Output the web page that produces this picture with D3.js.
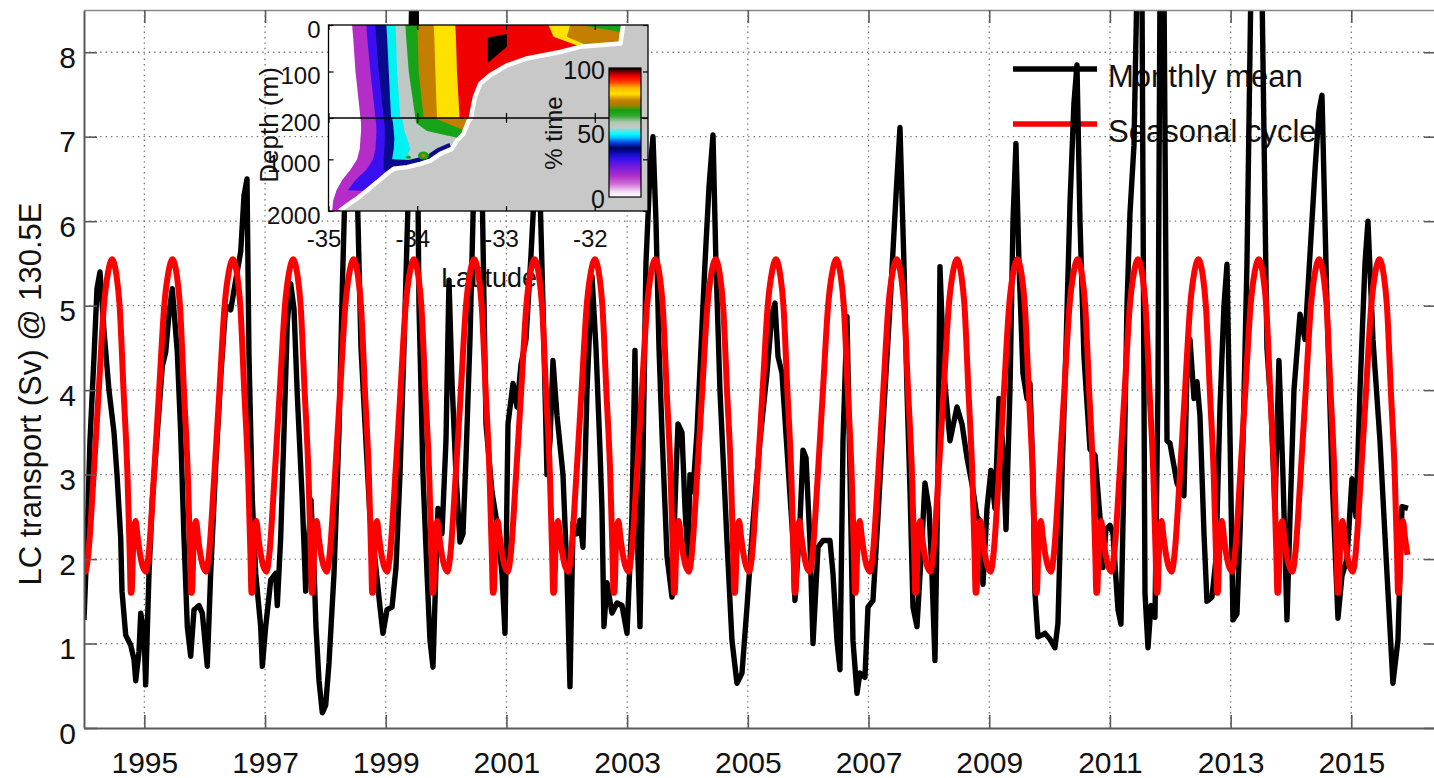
<!DOCTYPE html>
<html>
<head>
<meta charset="utf-8">
<script src="https://cdn.jsdelivr.net/npm/d3@7/dist/d3.min.js"></script>
<style>
html,body{margin:0;padding:0;background:#fff;}
svg{display:block;}
</style>
</head>
<body>
<svg id="chart" width="1434" height="778"></svg>
<script>
// ================= MAIN CHART DATA =================
const xTickYears = [1995, 1997, 1999, 2001, 2003, 2005, 2007, 2009, 2011, 2013, 2015];
const yTickValues = [0, 1, 2, 3, 4, 5, 6, 7, 8];
const legendLabels = ["Monthly mean", "Seasonal cycle"];
const yAxisLabel = "LC transport (Sv) @ 130.5E";

// Seasonal cycle (climatology) read for one year: phase within year, value (Sv)
const seasonalPhase = [0.00, 0.023, 0.07, 0.16, 0.245, 0.33, 0.40, 0.44, 0.47, 0.50, 0.54, 0.59, 0.655, 0.72, 0.76, 0.775, 0.787, 0.82, 0.855, 0.89, 0.93, 0.965];
const seasonalValue = [1.87, 1.85, 2.05, 3.0, 4.0, 5.0, 5.4, 5.52, 5.55, 5.5, 5.35, 5.0, 4.0, 3.0, 2.0, 1.6, 1.6, 2.25, 2.45, 2.25, 2.05, 1.93];

// Monthly mean transport
const monthlyYear = [1994.000,1994.050,1994.099,1994.166,1994.215,1994.265,1994.331,1994.414,1994.497,1994.547,1994.608,1994.630,1994.691,1994.774,1994.829,1994.857,1994.911,1994.940,1994.994,1995.022,1995.077,1995.132,1995.215,1995.297,1995.354,1995.408,1995.463,1995.546,1995.602,1995.657,1995.712,1995.768,1995.823,1995.906,1995.960,1996.043,1996.099,1996.182,1996.265,1996.348,1996.431,1996.514,1996.597,1996.651,1996.701,1996.734,1996.789,1996.845,1996.928,1996.955,1997.011,1997.094,1997.176,1997.203,1997.259,1997.314,1997.369,1997.425,1997.480,1997.534,1997.617,1997.674,1997.728,1997.761,1997.811,1997.844,1997.894,1997.949,1998.005,1998.060,1998.143,1998.225,1998.280,1998.341,1998.441,1998.524,1998.590,1998.656,1998.739,1998.822,1998.905,1998.954,1999.021,1999.104,1999.170,1999.236,1999.302,1999.369,1999.435,1999.501,1999.551,1999.617,1999.684,1999.733,1999.783,1999.833,1999.866,1999.932,1999.998,2000.048,2000.098,2000.164,2000.230,2000.280,2000.330,2000.396,2000.462,2000.529,2000.595,2000.661,2000.760,2000.843,2000.926,2000.976,2001.026,2001.109,2001.175,2001.241,2001.324,2001.407,2001.473,2001.539,2001.606,2001.672,2001.722,2001.771,2001.838,2001.937,2002.003,2002.053,2002.103,2002.169,2002.219,2002.268,2002.335,2002.418,2002.484,2002.550,2002.583,2002.616,2002.666,2002.749,2002.832,2002.915,2002.998,2003.080,2003.130,2003.180,2003.213,2003.263,2003.312,2003.379,2003.428,2003.478,2003.528,2003.578,2003.661,2003.744,2003.810,2003.843,2003.909,2003.959,2004.008,2004.041,2004.091,2004.157,2004.224,2004.290,2004.356,2004.423,2004.472,2004.538,2004.654,2004.737,2004.820,2004.903,2004.986,2005.085,2005.201,2005.317,2005.400,2005.450,2005.500,2005.566,2005.649,2005.748,2005.781,2005.864,2005.914,2005.964,2006.030,2006.080,2006.163,2006.245,2006.361,2006.411,2006.477,2006.527,2006.577,2006.643,2006.693,2006.742,2006.809,2006.858,2006.941,2006.991,2007.074,2007.157,2007.256,2007.356,2007.455,2007.521,2007.587,2007.637,2007.687,2007.737,2007.803,2007.886,2007.935,2008.002,2008.052,2008.101,2008.151,2008.184,2008.250,2008.350,2008.466,2008.549,2008.632,2008.731,2008.797,2008.847,2008.897,2008.963,2009.029,2009.095,2009.162,2009.228,2009.278,2009.344,2009.394,2009.443,2009.493,2009.559,2009.626,2009.675,2009.725,2009.758,2009.808,2009.874,2009.924,2010.007,2010.090,2010.139,2010.206,2010.272,2010.338,2010.404,2010.454,2010.504,2010.570,2010.670,2010.753,2010.835,2010.885,2010.935,2011.001,2011.051,2011.134,2011.183,2011.233,2011.283,2011.333,2011.399,2011.448,2011.531,2011.581,2011.631,2011.680,2011.747,2011.796,2011.830,2011.896,2011.946,2011.995,2012.062,2012.111,2012.178,2012.227,2012.277,2012.327,2012.393,2012.443,2012.492,2012.559,2012.608,2012.691,2012.757,2012.824,2012.890,2012.940,2012.989,2013.039,2013.105,2013.155,2013.205,2013.271,2013.337,2013.519,2013.602,2013.669,2013.735,2013.801,2013.867,2013.934,2013.983,2014.050,2014.149,2014.232,2014.315,2014.398,2014.464,2014.514,2014.597,2014.680,2014.779,2014.845,2014.928,2015.011,2015.077,2015.144,2015.227,2015.276,2015.359,2015.475,2015.591,2015.690,2015.773,2015.840,2015.939];
const monthlyValue = [1.28,2.2,3.4,4.4,5.2,5.4,4.7,4.0,3.5,3.0,2.25,1.62,1.1,0.98,0.81,0.56,0.9,1.36,1.15,0.51,1.83,2.7,3.5,4.28,4.45,4.9,5.2,4.45,3.5,2.25,1.2,0.85,1.4,1.45,1.36,0.73,1.83,3.1,4.15,5.0,4.95,5.3,5.64,6.3,6.5,4.4,2.7,1.83,1.2,0.73,1.2,1.75,1.83,1.45,2.25,3.5,4.8,5.26,4.96,3.95,2.7,1.62,2.3,2.7,1.9,1.2,0.56,0.18,0.27,0.77,1.83,3.5,5.2,6.8,7.3,6.5,4.5,3.6,2.5,2.0,1.43,1.12,1.4,1.43,1.9,3.0,4.5,6.2,8.8,8.8,5.0,3.0,1.83,1.04,0.72,1.9,2.6,2.3,3.4,5.3,4.1,3.0,2.2,2.3,3.2,4.6,6.5,7.5,6.5,3.6,2.8,2.43,1.83,1.12,3.6,4.08,3.8,4.3,4.6,5.6,6.5,6.8,5.0,3.0,3.4,4.35,3.7,3.0,1.83,0.49,2.43,2.3,2.46,2.14,4.0,5.35,4.5,3.3,2.6,1.2,1.72,1.36,1.48,1.45,1.12,2.5,4.47,2.0,1.2,3.2,5.5,6.6,7.0,6.0,4.5,3.49,2.03,1.55,3.0,3.6,3.5,2.6,2.0,3.0,2.8,3.5,4.5,5.5,6.4,7.02,5.5,4.0,2.22,1.04,0.53,0.65,1.43,2.43,3.4,4.2,4.9,5.03,4.4,4.2,3.3,2.22,1.51,2.43,3.29,3.2,2.2,1.0,2.14,2.22,2.22,1.83,1.04,0.69,3.4,4.87,3.0,1.04,0.41,0.65,0.6,1.43,1.51,2.5,3.8,5.0,6.3,7.11,5.5,4.0,2.82,1.43,1.2,2.22,2.9,2.6,1.8,0.8,3.0,5.46,4.2,3.4,3.8,3.6,3.2,2.82,2.5,2.45,1.7,2.6,3.05,2.6,3.9,3.3,2.35,4.0,6.0,6.92,5.5,4.2,3.9,4.08,3.0,1.6,1.08,1.1,1.12,1.05,0.95,1.24,3.0,4.5,6.2,7.4,7.85,6.0,4.4,3.3,3.23,2.5,1.9,2.35,2.4,2.3,1.4,1.23,3.0,5.0,6.1,6.9,8.8,8.8,1.6,0.95,1.45,1.31,4.0,8.8,8.8,3.4,3.37,3.1,2.9,2.8,2.75,4.2,4.6,3.9,4.1,3.7,2.3,1.5,1.55,2.0,3.8,5.0,5.49,3.5,1.28,1.35,2.3,3.4,5.5,8.8,8.8,4.5,3.8,2.6,4.35,3.0,1.28,2.46,4.0,4.9,4.6,5.6,6.6,7.3,7.49,5.0,3.0,1.3,1.8,2.0,2.95,2.5,4.0,5.5,6.0,4.6,3.4,1.83,0.53,1.04,2.62,2.6];

// ================= INSET DATA (% time vs latitude / depth) =================
const EAST = -31.4;                         // eastern limit of the section
const insetLatTicks = [-35, -34, -33, -32];
const insetDepthTicks = [0, 100, 200, 1000, 2000];
const insetDepth = [0, 25, 100, 200, 201, 300, 450, 600, 800, 1000, 1200, 1400, 1600, 1800, 2000];
// western edge (latitude) of each % band at each depth
const edgePurple = [-34.734,-34.723,-34.696,-34.640,-34.640,-34.633,-34.633,-34.640,-34.648,-34.678,-34.753,-34.846,-34.910,-34.948,-34.959];
const edgeBlue   = [-34.573,-34.565,-34.528,-34.471,-34.471,-34.464,-34.460,-34.464,-34.471,-34.498,-34.573,-34.696,-34.783,EAST,EAST];
const edgeNavy   = [-34.471,-34.464,-34.434,-34.378,-34.378,-34.370,-34.366,-34.366,-34.370,-34.378,-34.378,EAST,EAST,EAST,EAST];
const edgeCyan   = [-34.348,-34.340,-34.321,-34.295,-34.284,-34.273,-34.265,-34.258,-34.265,-34.284,EAST,EAST,EAST,EAST,EAST];
const edgeGray   = [-34.246,-34.239,-34.228,-34.190,-34.171,-34.160,-34.145,-34.115,-34.078,-34.134,EAST,EAST,EAST,EAST,EAST];
const edgeGreen  = [-34.134,-34.126,-34.096,-34.021,-34.021,-34.010,-33.890,-33.500,EAST,EAST,EAST,EAST,EAST,EAST,EAST];
const edgeBrown  = [-34.003,-33.995,-33.984,-33.928,-33.815,-33.665,-33.450,EAST,EAST,EAST,EAST,EAST,EAST,EAST,EAST];
const edgeYellow = [-33.815,-33.808,-33.796,-33.778,EAST,EAST,EAST,EAST,EAST,EAST,EAST,EAST,EAST,EAST,EAST];
const edgeRed    = [-33.572,-33.564,-33.553,-33.523,EAST,EAST,EAST,EAST,EAST,EAST,EAST,EAST,EAST,EAST,EAST];
const edgeShelfYellow = [-32.522,-32.465,EAST,EAST,EAST,EAST,EAST,EAST,EAST,EAST,EAST,EAST,EAST,EAST,EAST];
const edgeShelfBrown  = [-32.278,-32.315,EAST,EAST,EAST,EAST,EAST,EAST,EAST,EAST,EAST,EAST,EAST,EAST,EAST];
const edgeShelfGreen  = [-32.165,EAST,EAST,EAST,EAST,EAST,EAST,EAST,EAST,EAST,EAST,EAST,EAST,EAST,EAST];
const bandColors = ["#b52dc8","#3b10f0","#0a0a8c","#00f2f2","#bec8c5","#17a317","#c47e00","#ffe100","#f00000","#ffe100","#c47e00","#17a317"];
// bathymetry (sea floor) along the section
const bathyLat   = [-31.68,-31.69,-31.71,-32.165,-32.39,-32.765,-32.99,-33.18,-33.29,-33.35,-33.38,-33.395,-33.42,-33.48,-33.55,-33.61,-33.74,-33.85,-33.965,-34.115,-34.265,-34.34,-34.45,-34.565,-34.68,-34.79,-34.865,-34.87];
const bathyDepth = [0,12,40,47,58,72,87,108,126,155,184,200,251,509,637,798,894,1023,1087,1151,1184,1280,1441,1601,1762,1891,1987,2000];
// 100% patch and small isolated cells
const patchLat = [-33.204, -32.99, -32.99, -33.204];
const patchDepth = [27, 19.5, 47, 81];
const blobLat = [-33.93, -34.10];
const blobDepth = [926, 960];
// colour bar
const colorbarTicks = [0, 50, 100];
const colorbarStopValue = [0, 4, 10, 16, 24, 30, 35, 38, 42, 46, 49, 54, 58, 63, 67, 71, 75, 80, 85, 89, 93, 96, 100];
const colorbarStopColor = ["#ffffff","#f4e0f4","#d070d8","#b030c8","#7018e0","#3010f0","#0808a0","#000060","#0040e0","#00c0ff","#00ffff","#c8c8c8","#b0c8b0","#30a830","#10a010","#a08000","#c88000","#ffe000","#ffb000","#ff4000","#ff0000","#a00000","#000000"];

// ================= DRAWING =================
const FONT = '"Liberation Sans", Arial, Helvetica, sans-serif';
const svg = d3.select('#chart');
svg.append('rect').attr('width', 1434).attr('height', 778).attr('fill', '#fff');
const defs = svg.append('defs');

const x = d3.scaleLinear().domain([1994, 2016.42]).range([84, 1437]);
const y = d3.scaleLinear().domain([0, 8.5]).range([728, 10]);

defs.append('clipPath').attr('id', 'plotClip').append('rect')
  .attr('x', x.range()[0]).attr('y', y.range()[1])
  .attr('width', x.range()[1] - x.range()[0]).attr('height', y.range()[0] - y.range()[1]);

// grid
const grid = svg.append('g').attr('stroke', '#777').attr('stroke-width', 1.3).attr('stroke-dasharray', '1.4,4');
grid.selectAll('line.gv').data(xTickYears).join('line').attr('class', 'gv')
  .attr('x1', d => x(d)).attr('x2', d => x(d)).attr('y1', y(8.5)).attr('y2', y(0));
grid.selectAll('line.gh').data(yTickValues.filter(v => v > 0)).join('line').attr('class', 'gh')
  .attr('x1', x.range()[0]).attr('x2', x.range()[1]).attr('y1', d => y(d)).attr('y2', d => y(d));

// legend (drawn beneath data lines, as in the reference)
const legendColors = ['#000000', '#ff0000'];
const legendRowY = [69, 124];
const legend = svg.append('g');
legend.selectAll('line').data(legendLabels).join('line')
  .attr('x1', 1013).attr('x2', 1097).attr('y1', (d, i) => legendRowY[i]).attr('y2', (d, i) => legendRowY[i])
  .attr('stroke', (d, i) => legendColors[i]).attr('stroke-width', 5.5);
legend.selectAll('text').data(legendLabels).join('text')
  .attr('x', 1108).attr('y', (d, i) => legendRowY[i] + 18)
  .attr('font-family', FONT).attr('font-size', 31).attr('fill', '#111').text(d => d);

// inset scales
const ix = d3.scaleLinear().domain([-35, EAST]).range([328.5, 648]);
const iy = d3.scaleLinear().domain([0, 200, 2000]).range([25, 118, 211]);

// inset outer labels (lie beneath the data lines in the reference)
const insetLabels = svg.append('g');
const depthLab = insetLabels.append('g').attr('transform', `translate(${ix.range()[0]},0)`)
  .call(d3.axisLeft(iy).tickValues(insetDepthTicks).tickSize(0).tickPadding(8).tickFormat(d => String(d)));
depthLab.select('.domain').remove();
depthLab.attr('font-family', null).attr('font-size', null);
depthLab.selectAll('text').attr('font-family', FONT).attr('font-size', 24).attr('fill', '#111').attr('dy', '0.5em');
const latLab = insetLabels.append('g').attr('transform', `translate(0,${iy.range()[2]})`)
  .call(d3.axisBottom(ix).tickValues(insetLatTicks).tickSize(0).tickPadding(19).tickFormat(d => String(d)));
latLab.select('.domain').remove();
latLab.attr('font-family', null).attr('font-size', null);
latLab.selectAll('text').attr('font-family', FONT).attr('font-size', 24).attr('fill', '#111').attr('dx', -5);
insetLabels.append('text').attr('transform', 'translate(278,125) rotate(-90)')
  .attr('text-anchor', 'middle').attr('font-family', FONT).attr('font-size', 26).attr('fill', '#111').text('Depth (m)');
insetLabels.append('text').attr('x', 489).attr('y', 287)
  .attr('text-anchor', 'middle').attr('font-family', FONT).attr('font-size', 27).attr('fill', '#111').text('Latitude');

// data lines
const monthly = monthlyYear.map((t, i) => ({ t, v: monthlyValue[i] }));
const seasonal = [];
for (let yr = 1994; yr <= 2015; yr++) {
  seasonalPhase.forEach((p, i) => { const t = yr + p; if (t <= 2015.96) seasonal.push({ t, v: seasonalValue[i] }); });
}
const lines = svg.append('g').attr('clip-path', 'url(#plotClip)');
lines.append('path').datum(monthly)
  .attr('d', d3.line().x(d => x(d.t)).y(d => y(d.v)))
  .attr('fill', 'none').attr('stroke', '#000').attr('stroke-width', 5.4).attr('stroke-linejoin', 'round');
lines.append('path').datum(seasonal)
  .attr('d', d3.line().x(d => x(d.t)).y(d => y(d.v)).curve(d3.curveMonotoneX))
  .attr('fill', 'none').attr('stroke', '#ff0000').attr('stroke-width', 6).attr('stroke-linejoin', 'round');

// main axes
function styleAxis(g, withText) {
  g.attr('font-family', null).attr('font-size', null);
  g.select('.domain').attr('stroke', '#5a5a5a').attr('stroke-width', 2);
  g.selectAll('.tick line').attr('stroke', '#5a5a5a').attr('stroke-width', 1.6);
  if (withText) g.selectAll('.tick text').attr('font-family', FONT).attr('font-size', 30).attr('fill', '#111');
}
const axB = svg.append('g').attr('transform', `translate(0,${y(0)})`)
  .call(d3.axisBottom(x).tickValues(xTickYears).tickFormat(d3.format('d')).tickSizeInner(-13).tickSizeOuter(0).tickPadding(24));
styleAxis(axB, true);
const axL = svg.append('g').attr('transform', `translate(${x.range()[0]},0)`)
  .call(d3.axisLeft(y).tickValues(yTickValues).tickFormat(d3.format('d')).tickSizeInner(-13).tickSizeOuter(0).tickPadding(8));
styleAxis(axL, true);
axL.selectAll('.tick text').attr('dy', '0.5em');
const axT = svg.append('g').attr('transform', `translate(0,${y(8.5)})`)
  .call(d3.axisTop(x).tickValues(xTickYears).tickFormat('').tickSizeInner(-13).tickSizeOuter(0));
styleAxis(axT, false);
axT.select('.domain').attr('stroke-width', 1.5).attr('stroke', '#888');
const axR = svg.append('g').attr('transform', `translate(${x.range()[1]},0)`)
  .call(d3.axisRight(y).tickValues(yTickValues).tickFormat('').tickSizeInner(-13).tickSizeOuter(0));
styleAxis(axR, false);

svg.append('text').attr('transform', 'translate(41,394) rotate(-90)')
  .attr('text-anchor', 'middle').attr('font-family', FONT).attr('font-size', 31).attr('fill', '#111').text(yAxisLabel);

// ---------- inset body ----------
const inset = svg.append('g');
const [ixL, ixR] = ix.range();
const iyT = iy.range()[0], iyB = iy.range()[2];
defs.append('clipPath').attr('id', 'insetClip').append('rect')
  .attr('x', ixL).attr('y', iyT).attr('width', ixR - ixL).attr('height', iyB - iyT);
const body = inset.append('g').attr('clip-path', 'url(#insetClip)');
body.append('rect').attr('x', ixL).attr('y', iyT).attr('width', ixR - ixL).attr('height', iyB - iyT).attr('fill', '#fff');

const edges = [edgePurple, edgeBlue, edgeNavy, edgeCyan, edgeGray, edgeGreen, edgeBrown, edgeYellow, edgeRed, edgeShelfYellow, edgeShelfBrown, edgeShelfGreen];
const bandArea = d3.area().y(d => iy(d.depth)).x0(d => ix(d.lat)).x1(ix(EAST));
edges.forEach((edge, k) => {
  body.append('path').datum(insetDepth.map((dep, i) => ({ depth: dep, lat: edge[i] })))
    .attr('d', bandArea).attr('fill', bandColors[k]);
});

const bathy = bathyLat.map((lat, i) => ({ lat, depth: bathyDepth[i] }));
const secLine = d3.line().x(d => ix(d.lat)).y(d => iy(d.depth));
// navy rim along the slope
body.append('path').datum(bathy.filter(d => d.depth >= 798 && d.depth <= 1280))
  .attr('d', secLine).attr('fill', 'none').attr('stroke', '#0a0a8c').attr('stroke-width', 13).attr('stroke-linejoin', 'round');
// sea floor
body.append('path').datum(bathy.concat([{ lat: EAST, depth: 2000 }, { lat: EAST, depth: 0 }]))
  .attr('d', d => secLine(d) + 'Z').attr('fill', '#c8c8c8');
body.append('path').datum(bathy).attr('d', secLine)
  .attr('fill', 'none').attr('stroke', '#fff').attr('stroke-width', 4.5).attr('stroke-linejoin', 'round');
// 100% patch
body.append('path').datum(patchLat.map((lat, i) => ({ lat, depth: patchDepth[i] })))
  .attr('d', d => secLine(d) + 'Z').attr('fill', '#000');
// isolated cells
body.selectAll('ellipse.blob').data(blobLat.map((lat, i) => ({ lat, depth: blobDepth[i], i })))
  .join('ellipse').attr('class', 'blob')
  .attr('cx', d => ix(d.lat)).attr('cy', d => iy(d.depth))
  .attr('rx', d => d.i === 0 ? 5.5 : 2.5).attr('ry', d => d.i === 0 ? 4 : 1.8).attr('fill', bandColors[5]);
body.append('circle').attr('cx', ix(blobLat[0])).attr('cy', iy(blobDepth[0])).attr('r', 1.8).attr('fill', bandColors[6]);

// 200 m divider
inset.append('line').attr('x1', ixL).attr('x2', ixR).attr('y1', iy(200)).attr('y2', iy(200))
  .attr('stroke', '#000').attr('stroke-width', 1.3);
// frame
inset.append('rect').attr('x', ixL).attr('y', iyT).attr('width', ixR - ixL).attr('height', iyB - iyT)
  .attr('fill', 'none').attr('stroke', '#000').attr('stroke-width', 1.3);
// ticks
function tickOnly(g) {
  g.attr('font-family', null).attr('font-size', null);
  g.select('.domain').remove();
  g.selectAll('.tick line').attr('stroke', '#000').attr('stroke-width', 1.2);
}
tickOnly(inset.append('g').attr('transform', `translate(${ixL},0)`)
  .call(d3.axisLeft(iy).tickValues(insetDepthTicks).tickFormat('').tickSizeInner(-5).tickSizeOuter(0)));
tickOnly(inset.append('g').attr('transform', `translate(${ixR},0)`)
  .call(d3.axisRight(iy).tickValues(insetDepthTicks).tickFormat('').tickSizeInner(-5).tickSizeOuter(0)));
tickOnly(inset.append('g').attr('transform', `translate(0,${iyT})`)
  .call(d3.axisTop(ix).tickValues(insetLatTicks).tickFormat('').tickSizeInner(-5).tickSizeOuter(0)));
tickOnly(inset.append('g').attr('transform', `translate(0,${iyB})`)
  .call(d3.axisBottom(ix).tickValues(insetLatTicks).tickFormat('').tickSizeInner(-5).tickSizeOuter(0)));
tickOnly(inset.append('g').attr('transform', `translate(0,${iy(200)})`)
  .call(d3.axisBottom(ix).tickValues(insetLatTicks).tickFormat('').tickSizeInner(5).tickSizeOuter(0)));
tickOnly(inset.append('g').attr('transform', `translate(0,${iy(200)})`)
  .call(d3.axisTop(ix).tickValues(insetLatTicks).tickFormat('').tickSizeInner(5).tickSizeOuter(0)));

// colour bar
const cb = d3.scaleLinear().domain([0, 100]).range([197, 68]);
const grad = defs.append('linearGradient').attr('id', 'cbGrad').attr('x1', 0).attr('y1', 1).attr('x2', 0).attr('y2', 0);
grad.selectAll('stop').data(colorbarStopValue).join('stop')
  .attr('offset', d => d / 100).attr('stop-color', (d, i) => colorbarStopColor[i]);
inset.append('rect').attr('x', 609).attr('y', cb(100)).attr('width', 32).attr('height', cb(0) - cb(100))
  .attr('fill', 'url(#cbGrad)').attr('stroke', '#000').attr('stroke-width', 1.2);
const cbAx = inset.append('g').attr('transform', 'translate(609,0)')
  .call(d3.axisLeft(cb).tickValues(colorbarTicks).tickSize(0).tickPadding(4).tickFormat(d => String(d)));
cbAx.select('.domain').remove();
cbAx.attr('font-family', null).attr('font-size', null);
cbAx.selectAll('text').attr('font-family', FONT).attr('font-size', 25).attr('fill', '#111').attr('dy', '0.4em');
inset.append('text').attr('transform', 'translate(562,133) rotate(-90)')
  .attr('text-anchor', 'middle').attr('font-family', FONT).attr('font-size', 24).attr('fill', '#111').text('% time');
</script>
</body>
</html>
